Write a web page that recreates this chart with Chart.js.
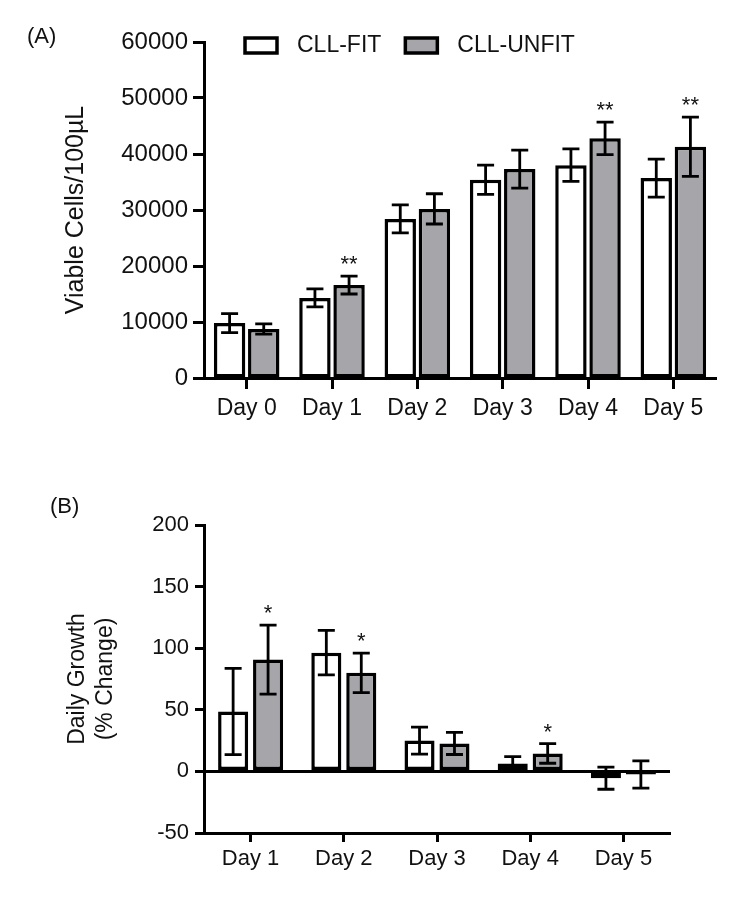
<!DOCTYPE html>
<html>
<head>
<meta charset="utf-8">
<script src="https://cdn.jsdelivr.net/npm/chart.js@4.4.1/dist/chart.umd.min.js"></script>
<style>
body { margin: 0; background: #fff; }
canvas { display: block; }
</style>
</head>
<body>
<canvas id="chartA" width="746" height="420"></canvas>
<canvas id="chartB" width="746" height="478"></canvas>
<script>
// panel A: viable cells
const daysA = ['Day 0', 'Day 1', 'Day 2', 'Day 3', 'Day 4', 'Day 5'];
const fitA = [9800, 14300, 28400, 35400, 38000, 35700];
const fitErrA = [1700, 1600, 2500, 2600, 2900, 3400];
const unfitA = [8750, 16600, 30200, 37300, 42800, 41300];
const unfitErrA = [900, 1600, 2700, 3400, 2900, 5300];
const starsA = ['', '**', '', '', '**', '**'];

// panel B: daily growth
const daysB = ['Day 1', 'Day 2', 'Day 3', 'Day 4', 'Day 5'];
const fitB = [48.6, 96.4, 25, 6.5, -5.5];
const fitErrB = [35, 18, 11, 5.5, 9];
const unfitB = [90.8, 80, 22.7, 14.6, -2.5];
const unfitErrB = [28, 16, 9, 8, 11];
const starsB = ['*', '*', '', '*', ''];

const FONT = '"Liberation Sans", Arial, sans-serif';
const GREY = '#a5a5aa';
const INK = '#111';

Chart.defaults.font.family = FONT;
Chart.defaults.color = INK;

const errorBars = {
    id: 'errorBars',
    afterDatasetsDraw(chart, args, opts) {
        const ctx = chart.ctx;
        const y = chart.scales.y;
        chart.data.datasets.forEach((ds, i) => {
            const meta = chart.getDatasetMeta(i);
            const errs = opts.errors[i];
            const stars = opts.stars[i];
            meta.data.forEach((bar, j) => {
                const m = ds.data[j];
                const top = y.getPixelForValue(m + errs[j]);
                const bot = y.getPixelForValue(m - errs[j]);
                ctx.save();
                ctx.strokeStyle = '#000';
                ctx.lineWidth = 2.8;
                ctx.beginPath();
                ctx.moveTo(bar.x, top); ctx.lineTo(bar.x, bot);
                ctx.moveTo(bar.x - 8.5, top); ctx.lineTo(bar.x + 8.5, top);
                ctx.moveTo(bar.x - 8.5, bot); ctx.lineTo(bar.x + 8.5, bot);
                ctx.stroke();
                if (stars && stars[j]) {
                    ctx.fillStyle = INK;
                    ctx.font = '22px ' + FONT;
                    ctx.textAlign = 'center';
                    ctx.textBaseline = 'alphabetic';
                    ctx.fillText(stars[j], bar.x, top - 5);
                }
                ctx.restore();
            });
        });
    }
};

const panelText = {
    id: 'panelText',
    afterDraw(chart, args, opts) {
        const ctx = chart.ctx;
        ctx.save();
        ctx.fillStyle = INK;
        ctx.font = '22px ' + FONT;
        ctx.textAlign = 'left';
        ctx.textBaseline = 'middle';
        ctx.fillText(opts.label, opts.x, opts.y);
        if (opts.legend) {
            const area = chart.chartArea;
            let x = area.left + 41;
            const y = 45;
            ctx.font = '23px ' + FONT;
            chart.data.datasets.forEach(ds => {
                ctx.fillStyle = ds.backgroundColor;
                ctx.fillRect(x, y - 7, 32, 15);
                ctx.strokeStyle = '#000';
                ctx.lineWidth = 3.5;
                ctx.strokeRect(x, y - 7, 32, 15);
                ctx.fillStyle = INK;
                ctx.fillText(ds.label, x + 52, y + 1);
                x += 52 + ctx.measureText(ds.label).width + 24;
            });
        }
        ctx.restore();
    }
};

function barData(labels, fit, unfit) {
    return {
        labels: labels,
        datasets: [
            { label: 'CLL-FIT', data: fit, backgroundColor: '#fff', borderColor: '#000', borderWidth: 3.5, borderSkipped: false },
            { label: 'CLL-UNFIT', data: unfit, backgroundColor: GREY, borderColor: '#000', borderWidth: 3.5, borderSkipped: false }
        ]
    };
}

const plainNumber = v => String(v);

const chartA = new Chart(document.getElementById('chartA'), {
    type: 'bar',
    data: barData(daysA, fitA, unfitA),
    options: {
        responsive: false,
        animation: false,
        layout: { padding: { top: 42, right: 30, left: 0, bottom: 0 } },
        datasets: { bar: { categoryPercentage: 0.8, barPercentage: 0.92 } },
        plugins: {
            legend: { display: false },
            tooltip: { enabled: false },
            errorBars: { errors: [fitErrA, unfitErrA], stars: [null, starsA] },
            panelText: { label: '(A)', x: 27, y: 37, legend: true }
        },
        scales: {
            x: {
                afterFit: s => { s.height = 42; },
                border: { color: '#000', width: 3 },
                grid: { offset: false, drawOnChartArea: false, tickLength: 11, tickWidth: 3, tickColor: '#000' },
                ticks: { font: { size: 23, lineHeight: 1.15 }, padding: 6, color: INK, maxRotation: 0 }
            },
            y: {
                min: 0, max: 60000,
                afterFit: s => { s.width = 204; },
                border: { color: '#000', width: 3 },
                grid: { drawOnChartArea: false, tickLength: 11, tickWidth: 3, tickColor: '#000' },
                ticks: { stepSize: 10000, font: { size: 24 }, padding: 5, color: INK, callback: plainNumber },
                title: { display: true, text: 'Viable Cells/100µL', font: { size: 25 }, padding: { top: 61, bottom: 0 }, color: INK }
            }
        }
    },
    plugins: [errorBars, panelText]
});

const chartB = new Chart(document.getElementById('chartB'), {
    type: 'bar',
    data: barData(daysB, fitB, unfitB),
    options: {
        responsive: false,
        animation: false,
        layout: { padding: { top: 105, right: 76, left: 0, bottom: 0 } },
        datasets: { bar: { categoryPercentage: 0.75, barPercentage: 0.86 } },
        plugins: {
            legend: { display: false },
            tooltip: { enabled: false },
            errorBars: { errors: [fitErrB, unfitErrB], stars: [null, starsB] },
            panelText: { label: '(B)', x: 50, y: 87, legend: false }
        },
        scales: {
            x: {
                afterFit: s => { s.height = 65; },
                border: { color: '#000', width: 3 },
                grid: { offset: false, drawOnChartArea: false, tickLength: 9, tickWidth: 3, tickColor: '#000' },
                ticks: { font: { size: 22, lineHeight: 1.15 }, padding: 4, color: INK, maxRotation: 0 }
            },
            y: {
                min: -50, max: 200,
                afterFit: s => { s.width = 204; },
                border: { color: '#000', width: 3 },
                grid: {
                    color: c => (c.tick && c.tick.value === 0) ? '#000' : 'rgba(0,0,0,0)',
                    lineWidth: 3,
                    tickLength: 9, tickWidth: 3, tickColor: '#000'
                },
                ticks: { stepSize: 50, font: { size: 22 }, padding: 6, color: INK, callback: plainNumber },
                title: { display: true, text: ['Daily Growth', '(% Change)'], font: { size: 23, lineHeight: 1.25 }, padding: { top: 63, bottom: 0 }, color: INK }
            }
        }
    },
    plugins: [errorBars, panelText]
});
</script>
</body>
</html>
